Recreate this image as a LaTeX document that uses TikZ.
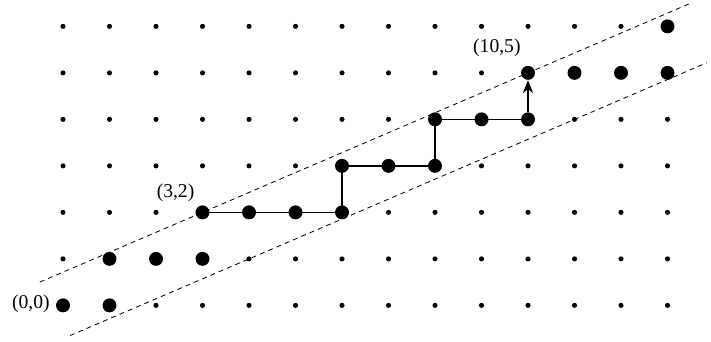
\documentclass[tikz,border=0pt]{standalone}
\usepackage{fontspec}
\setmainfont{Liberation Serif}
\usetikzlibrary{arrows.meta}
\begin{document}
\begin{tikzpicture}[x=1cm,y=1cm,
  smalldot/.style={circle,fill=black,inner sep=0pt,minimum size=0.11cm},
  bigdot/.style={circle,fill=black,inner sep=0pt,minimum size=0.3cm},
  walk/.style={line width=0.8pt},
  bound/.style={dashed,line width=0.5pt,dash pattern=on 3pt off 2.5pt},
  lbl/.style={font=\fontsize{12}{14}\selectfont,inner sep=0pt}]
\useasboundingbox (-1.355,-0.775) rectangle (13.935,6.567);
% boundary lines
\coordinate (ua) at (-0.5,0.5);
\coordinate (ub) at (13.48,6.49);
\coordinate (la) at (0.15,-0.65);
\coordinate (lb) at (13.85,5.22);
\draw[bound] (ua) -- (ub);
\draw[bound] (la) -- (lb);
% lattice
\foreach \x in {0,...,13} {
  \foreach \y in {0,...,6} {
    \node[smalldot] (p-\x-\y) at (\x,\y) {};
  }
}
% big dots
\foreach \x/\y in {0/0,1/0,1/1,2/1,3/1,3/2,4/2,5/2,6/2,6/3,7/3,8/3,8/4,9/4,10/4,10/5,11/5,12/5,13/5,13/6} {
  \node[bigdot] (b-\x-\y) at (\x,\y) {};
}
% walk
\draw[walk] (b-3-2.center) -- (b-4-2.center) -- (b-5-2.center) -- (b-6-2.center) -- (b-6-3.center) -- (b-7-3.center) -- (b-8-3.center) -- (b-8-4.center) -- (b-9-4.center) -- (b-10-4.center);
\draw[walk,-{Stealth[length=2.8mm,width=2.2mm]}] (b-10-4) -- (b-10-5);
% labels
\node[lbl] (l00) at (-0.69,0.04) {(0,0)};
\node[lbl] (l32) at (2.42,2.43) {(3,2)};
\node[lbl] (l105) at (9.33,5.54) {(10,5)};
\end{tikzpicture}
\end{document}
